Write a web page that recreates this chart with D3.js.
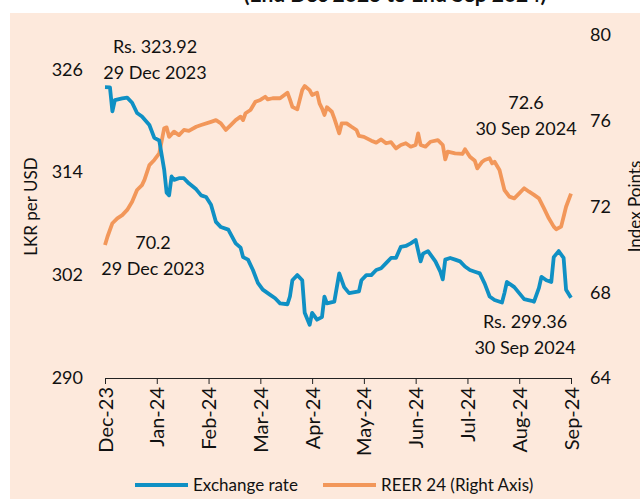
<!DOCTYPE html>
<html>
<head>
<meta charset="utf-8">
<script src="https://cdn.jsdelivr.net/npm/d3@7"></script>
<style>
body { margin: 0; background: #fff; }
svg text { font-family: Lato, "Open Sans", sans-serif; fill: #111; }
</style>
</head>
<body>
<svg width="640" height="499"></svg>
<script>
// month labels shown every 21 trading days
var monthLabels = ['Dec-23', 'Jan-24', 'Feb-24', 'Mar-24', 'Apr-24', 'May-24', 'Jun-24', 'Jul-24', 'Aug-24', 'Sep-24'];
var tickStep = 21;
var lastDay = 189;

// exchange rate, LKR per USD (trading day index, value)
var fxDay = [0, 2, 3, 4, 7, 9, 11, 13, 15, 18, 20, 22, 24, 25, 26, 27, 28, 30, 32, 34, 37, 39, 41, 43, 45, 47, 50, 53, 55, 56, 58, 60, 62, 64, 67, 69, 71, 74, 75, 76, 78, 80, 81, 83, 84, 86, 88, 89, 90, 93, 95, 97, 99, 103, 104, 106, 108, 110, 112, 114, 116, 118, 120, 122, 124, 126, 128, 129, 131, 134, 136, 137, 138, 140, 142, 144, 146, 148, 150, 152, 154, 156, 158, 161, 162, 163, 165, 166, 168, 170, 173, 174, 176, 177, 179, 181, 182, 184, 186, 187, 189];
var fxRate = [323.92, 323.9, 321.1, 322.4, 322.6, 322.7, 322.1, 320.9, 320.5, 319.5, 318.0, 317.7, 314.3, 311.6, 311.3, 313.5, 313.1, 313.3, 313.3, 312.7, 312.0, 311.3, 311.1, 310.2, 308.2, 307.6, 307.3, 305.7, 305.2, 304.1, 303.8, 302.6, 301.1, 300.3, 299.7, 299.3, 298.7, 298.6, 299.5, 301.4, 302.0, 301.4, 297.6, 296.2, 297.6, 296.8, 297.1, 299.5, 298.7, 298.9, 302.2, 300.6, 299.9, 300.1, 301.4, 302.0, 302.0, 302.6, 302.8, 303.4, 304.0, 304.0, 305.3, 305.4, 305.7, 306.1, 303.6, 304.5, 304.8, 303.6, 302.4, 301.5, 303.8, 304.0, 303.8, 303.6, 303.0, 302.6, 302.4, 302.2, 301.0, 299.5, 299.1, 298.8, 299.9, 301.2, 300.8, 300.6, 299.9, 299.2, 299.0, 298.9, 300.5, 301.8, 301.4, 301.2, 304.1, 304.8, 304.0, 300.3, 299.36];

// REER 24 index (trading day index, value)
var reerDay = [0, 1, 3, 5, 7, 9, 11, 13, 15, 16, 18, 20, 22, 24, 25, 26, 28, 30, 32, 34, 37, 39, 43, 45, 47, 49, 51, 53, 55, 56, 57, 59, 61, 63, 65, 66, 68, 71, 74, 75, 76, 78, 80, 81, 83, 84, 86, 87, 88, 89, 90, 92, 93, 95, 96, 98, 100, 102, 103, 105, 108, 110, 112, 114, 116, 118, 120, 122, 124, 126, 127, 128, 130, 132, 135, 137, 138, 139, 142, 145, 146, 148, 150, 151, 153, 154, 156, 157, 158, 160, 161, 162, 164, 166, 168, 170, 172, 174, 176, 178, 180, 182, 183, 185, 186, 187, 189];
var reerIndex = [70.2, 70.59, 71.22, 71.45, 71.6, 71.84, 72.22, 72.77, 73.0, 73.24, 73.93, 74.17, 74.48, 75.65, 75.69, 75.25, 75.49, 75.33, 75.57, 75.53, 75.72, 75.8, 75.95, 76.03, 75.88, 75.57, 75.8, 76.03, 76.19, 76.03, 76.35, 76.5, 76.89, 76.97, 77.12, 77.0, 77.05, 77.05, 77.31, 77.0, 76.65, 76.53, 77.43, 77.62, 77.43, 77.2, 77.31, 76.81, 76.58, 76.27, 76.63, 76.42, 76.11, 75.41, 75.88, 75.88, 75.72, 75.57, 75.29, 75.25, 75.07, 74.98, 75.13, 74.95, 75.0, 74.71, 74.87, 74.95, 74.79, 74.87, 75.41, 74.87, 74.79, 75.02, 75.1, 74.87, 74.2, 74.56, 74.48, 74.45, 74.67, 74.32, 74.13, 73.78, 74.09, 74.17, 74.25, 74.01, 74.09, 73.7, 73.24, 72.77, 72.46, 72.38, 72.61, 72.85, 72.69, 72.54, 72.38, 71.92, 71.45, 71.06, 70.94, 71.06, 71.52, 71.99, 72.6];

var leftTicks = [290, 302, 314, 326];
var rightTicks = [64, 68, 72, 76, 80];

var blue = '#0f90c4';
var orange = '#f2975a';

var svg = d3.select('svg');
var P = {L: 105, R: 571, T: 35, B: 378};

// chopped title above the panel
svg.append('text')
	.attr('x', 395).attr('y', 2)
	.attr('text-anchor', 'middle')
	.style('font-size', '21px').style('font-weight', 'bold')
	.text('(End Dec 2023 to End Sep 2024)');

svg.append('rect')
	.attr('x', 10).attr('y', 13)
	.attr('width', 630).attr('height', 486)
	.attr('fill', '#fde9dc');

var x = d3.scaleLinear().domain([0, lastDay]).range([P.L, P.R]);
var yL = d3.scaleLinear().domain([290, 330]).range([P.B, P.T]);
var yR = d3.scaleLinear().domain([64, 80]).range([P.B, P.T]);

var xAxis = d3.axisBottom(x)
	.tickValues(monthLabels.map(function(d, i) { return i * tickStep; }))
	.tickFormat(function(d) { return monthLabels[d / tickStep]; })
	.tickSize(6)
	.tickSizeOuter(0);

var gx = svg.append('g')
	.attr('transform', 'translate(0,' + P.B + ')')
	.call(xAxis);
gx.selectAll('text')
	.attr('transform', 'rotate(-90)')
	.attr('x', -9).attr('y', 0).attr('dy', '0.35em')
	.style('text-anchor', 'end')
	.style('font-size', '20px');
gx.selectAll('path, line').attr('stroke', '#222');

var gl = svg.append('g')
	.attr('transform', 'translate(' + P.L + ',0)')
	.call(d3.axisLeft(yL).tickValues(leftTicks).tickSize(0).tickPadding(22));
gl.select('.domain').remove();
gl.selectAll('text').style('font-size', '18px');

var gr = svg.append('g')
	.attr('transform', 'translate(' + P.R + ',0)')
	.call(d3.axisRight(yR).tickValues(rightTicks).tickSize(0).tickPadding(19));
gr.select('.domain').remove();
gr.selectAll('text').style('font-size', '18px');

// axis titles
svg.append('text')
	.attr('transform', 'translate(37,' + ((P.T + P.B) / 2) + ') rotate(-90)')
	.attr('text-anchor', 'middle')
	.style('font-size', '17px')
	.text('LKR per USD');
svg.append('text')
	.attr('transform', 'translate(641,' + ((P.T + P.B) / 2) + ') rotate(-90)')
	.attr('text-anchor', 'middle')
	.style('font-size', '17px')
	.text('Index Points');

var fxLine = d3.line()
	.x(function(d, i) { return x(fxDay[i]); })
	.y(function(d) { return yL(d); });
var reerLine = d3.line()
	.x(function(d, i) { return x(reerDay[i]); })
	.y(function(d) { return yR(d); });

svg.append('path')
	.attr('d', reerLine(reerIndex))
	.attr('fill', 'none').attr('stroke', orange)
	.attr('stroke-width', 3.8).attr('stroke-linejoin', 'round');
svg.append('path')
	.attr('d', fxLine(fxRate))
	.attr('fill', 'none').attr('stroke', blue)
	.attr('stroke-width', 3.8).attr('stroke-linejoin', 'round');

// data labels
var notes = [
	{x: 155, y: 53, lines: ['Rs. ' + fxRate[0].toFixed(2), '29 Dec 2023']},
	{x: 153, y: 249, lines: [reerIndex[0].toFixed(1), '29 Dec 2023']},
	{x: 526, y: 109, lines: [reerIndex[reerIndex.length - 1].toFixed(1), '30 Sep 2024']},
	{x: 525, y: 328, lines: ['Rs. ' + fxRate[fxRate.length - 1].toFixed(2), '30 Sep 2024']}
];
notes.forEach(function(n) {
	var t = svg.append('text')
		.attr('text-anchor', 'middle')
		.style('font-size', '18px');
	n.lines.forEach(function(s, i) {
		t.append('tspan').attr('x', n.x).attr('y', n.y + i * 26).text(s);
	});
});

// legend
var legend = [
	{name: 'Exchange rate', color: blue, x: 135},
	{name: 'REER 24 (Right Axis)', color: orange, x: 323}
];
legend.forEach(function(l) {
	svg.append('line')
		.attr('x1', l.x).attr('x2', l.x + 53)
		.attr('y1', 485).attr('y2', 485)
		.attr('stroke', l.color).attr('stroke-width', 4);
	svg.append('text')
		.attr('x', l.x + 58).attr('y', 491)
		.style('font-size', '17px')
		.text(l.name);
});
</script>
</body>
</html>
